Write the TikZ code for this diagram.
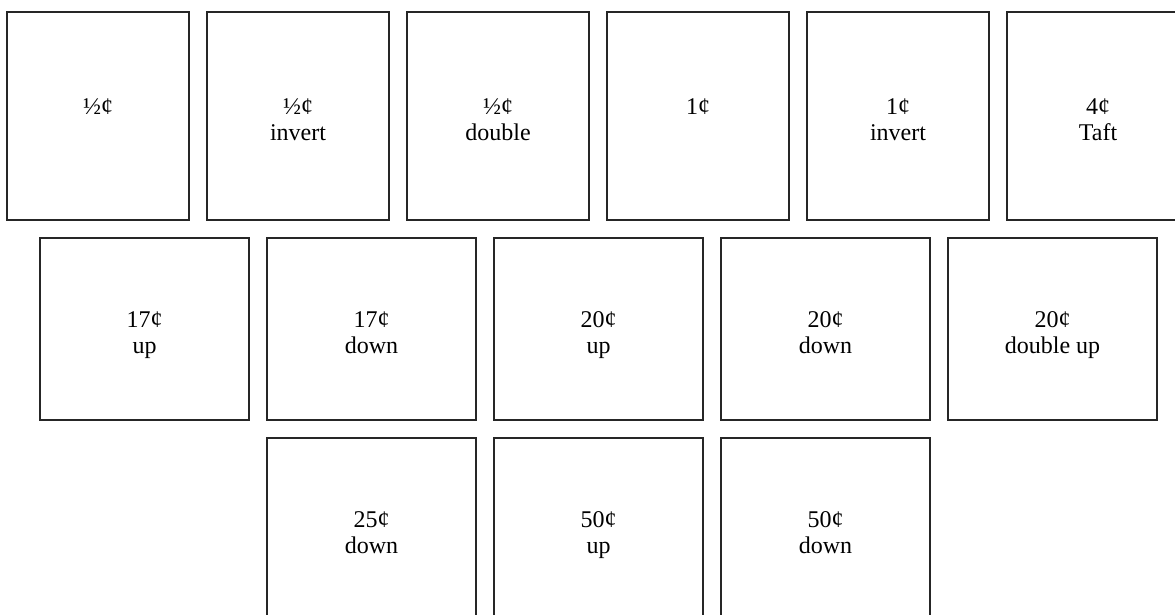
\documentclass[tikz,border=0pt]{standalone}
\usepackage{fontspec}
\setmainfont{Liberation Serif}
\usetikzlibrary{positioning}

% two lines of a stamp label, nudged a little below the box centre
\newcommand{\stamplines}[2]{\rule{0pt}{30.5pt}#1\\#2\strut}

\begin{document}
\begin{tikzpicture}[
    node distance=18pt and 18pt,
    every node/.style={font=\fontsize{24pt}{26.5pt}\selectfont},
    stampbox/.style={rectangle, draw=black!85, line width=1.5pt, outer sep=0pt, inner sep=0pt, align=center},
    smallstamp/.style={stampbox, minimum width=182pt, minimum height=208pt},
    widestamp/.style={stampbox, minimum width=209pt, minimum height=182pt}
]
\useasboundingbox (0pt,0pt) rectangle (1175pt,-615pt);

% Row 1: small values
\node[smallstamp] (half) at (98pt,-116pt) {\stamplines{½¢}{}};
\node[smallstamp, right=of half] (half-inv) {\stamplines{½¢}{invert}};
\node[smallstamp, right=of half-inv] (half-dbl) {\stamplines{½¢}{double}};
\node[smallstamp, right=of half-dbl] (one) {\stamplines{1¢}{}};
\node[smallstamp, right=of one] (one-inv) {\stamplines{1¢}{invert}};
\node[smallstamp, right=of one-inv] (four-taft) {\stamplines{4¢}{Taft}};

% Row 2: 17 and 20 cent values
\node[widestamp] (seventeen-up) at (144.5pt,-329pt) {\stamplines{17¢}{up}};
\node[widestamp, right=of seventeen-up] (seventeen-down) {\stamplines{17¢}{down}};
\node[widestamp, right=of seventeen-down] (twenty-up) {\stamplines{20¢}{up}};
\node[widestamp, right=of twenty-up] (twenty-down) {\stamplines{20¢}{down}};
\node[widestamp, right=of twenty-down] (twenty-dbl) {\stamplines{20¢}{double up}};

% Row 3: 25 and 50 cent values
\node[widestamp, below=of seventeen-down] (quarter-down) {\stamplines{25¢}{down}};
\node[widestamp, right=of quarter-down] (fifty-up) {\stamplines{50¢}{up}};
\node[widestamp, right=of fifty-up] (fifty-down) {\stamplines{50¢}{down}};

\end{tikzpicture}
\end{document}
